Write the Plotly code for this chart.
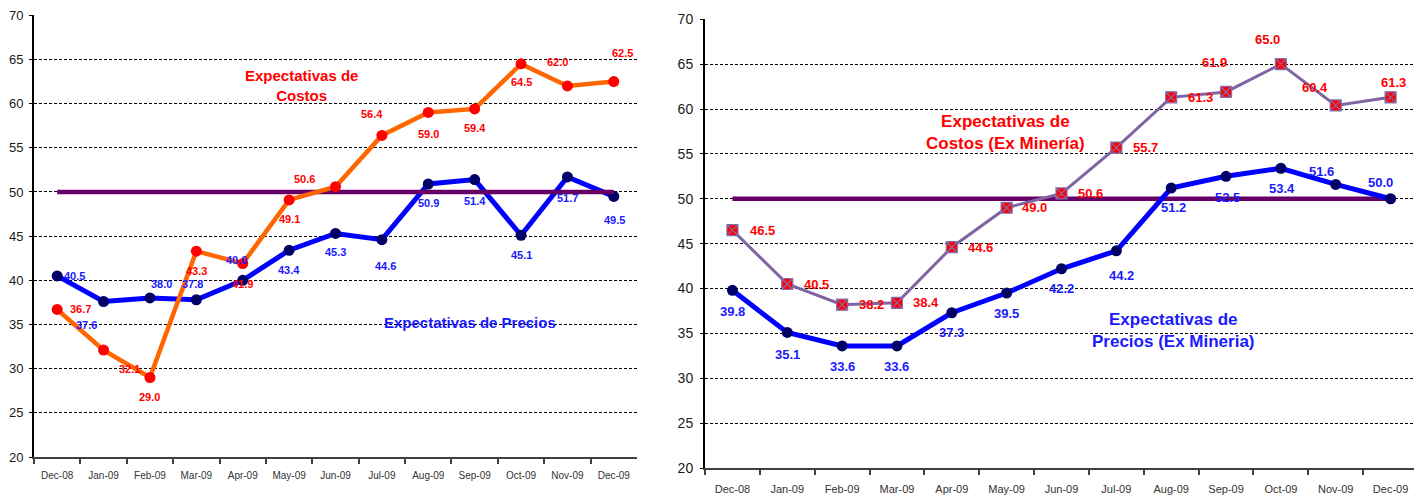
import plotly.graph_objects as go

months = ["Dec-08", "Jan-09", "Feb-09", "Mar-09", "Apr-09", "May-09", "Jun-09",
          "Jul-09", "Aug-09", "Sep-09", "Oct-09", "Nov-09", "Dec-09"]
precios = [40.5, 37.6, 38.0, 37.8, 40.0, 43.4, 45.3, 44.6, 50.9, 51.4, 45.1, 51.7, 49.5]
costos = [36.7, 32.1, 29.0, 43.3, 41.9, 49.1, 50.6, 56.4, 59.0, 59.4, 64.5, 62.0, 62.5]
precios_exm = [39.8, 35.1, 33.6, 33.6, 37.3, 39.5, 42.2, 44.2, 51.2, 52.5, 53.4, 51.6, 50.0]
costos_exm = [46.5, 40.5, 38.2, 38.4, 44.6, 49.0, 50.6, 55.7, 61.3, 61.9, 65.0, 60.4, 61.3]
neutral = 50
y_ticks = [20, 25, 30, 35, 40, 45, 50, 55, 60, 65, 70]

# label offsets in pixels (dx right, dy down)
off_precios = [(17, 0), (-17, 23), (12, -14), (-4, -16), (-6, -20), (0, 20), (0, 19),
               (4, 26), (0, 19), (0, 21), (0, 20), (0, 21), (1, 24)]
off_costos = [(23, 0), (26, 19), (0, 20), (0, 20), (0, 20), (0, 19), (-31, -8),
              (-10, -21), (0, 22), (0, 19), (0, 18), (-10, -24), (9, -29)]
off_precios_exm = [(0, 21), (0, 22), (0, 21), (0, 21), (0, 20), (0, 20), (0, 20),
                   (5, 25), (2, 20), (1, 21), (1, 20), (-14, -13), (-10, -16)]
off_costos_exm = [(30, 0), (29, 0), (29, 0), (29, 0), (29, 0), (28, 0), (29, 0),
                  (29, 0), (29, 0), (-12, -29), (-13, -25), (-21, -18), (3, -15)]

FONT = "Liberation Sans, Arial, sans-serif"
OFF = 8                 # page body margin
W, H = 1422 - OFF, 497 - OFF


def fx(px):
    return (px - OFF) / W


def fy(py):
    return (OFF + H - py) / H


fig = go.Figure()

# ---------- left chart ----------
fig.add_trace(go.Scatter(x=months, y=precios, mode="lines+markers",
                         line=dict(color="#0000FF", width=5),
                         marker=dict(color="#000066", size=11),
                         xaxis="x", yaxis="y", showlegend=False))
fig.add_trace(go.Scatter(x=[months[0], months[-1]], y=[neutral, neutral], mode="lines",
                         line=dict(color="#660066", width=4.5),
                         xaxis="x", yaxis="y", showlegend=False))
fig.add_trace(go.Scatter(x=months, y=costos, mode="lines+markers",
                         line=dict(color="#FF6600", width=4.5),
                         marker=dict(color="#FF0000", size=11),
                         xaxis="x", yaxis="y", showlegend=False))

# ---------- right chart ----------
fig.add_trace(go.Scatter(x=[months[0], months[-1]], y=[neutral, neutral], mode="lines",
                         line=dict(color="#660066", width=4.5),
                         xaxis="x2", yaxis="y2", showlegend=False))
fig.add_trace(go.Scatter(x=months, y=precios_exm, mode="lines+markers",
                         line=dict(color="#0000FF", width=5),
                         marker=dict(color="#000066", size=11),
                         xaxis="x2", yaxis="y2", showlegend=False))
fig.add_trace(go.Scatter(x=months, y=costos_exm, mode="lines+markers",
                         line=dict(color="#8064A2", width=3),
                         marker=dict(color="#FF0000", size=11, symbol="square-x",
                                     line=dict(color="#7F6FB0", width=1.2)),
                         xaxis="x2", yaxis="y2", showlegend=False))

annotations = []


def bold(s):
    return "<b>" + s + "</b>"


def add_labels(vals, offs, color, size, xr, yr):
    for m, v, (dx, dy) in zip(months, vals, offs):
        annotations.append(dict(x=m, y=v, xref=xr, yref=yr, text=bold(f"{v:.1f}"),
                                showarrow=False, xshift=dx, yshift=-dy,
                                font=dict(family=FONT, size=size, color=color),
                                xanchor="center", yanchor="middle"))


add_labels(precios, off_precios, "#1A1AFF", 11, "x", "y")
add_labels(costos, off_costos, "#FF0000", 11, "x", "y")
add_labels(precios_exm, off_precios_exm, "#1A1AFF", 13, "x2", "y2")
add_labels(costos_exm, off_costos_exm, "#FF0000", 13, "x2", "y2")

titles = [
    ("Expectativas de<br>Costos", 301, 85, "#FF0000", 15),
    ("Expectativas de Precios", 470, 322, "#1A1AFF", 15),
    ("Expectativas de<br>Costos (Ex Minería)", 1005, 132, "#FF0000", 17),
    ("Expectativas de<br>Precios (Ex Mineria)", 1173, 330, "#1A1AFF", 17),
]
for txt, px, py, col, sz in titles:
    annotations.append(dict(x=fx(px), y=fy(py), xref="paper", yref="paper",
                            text=bold(txt), showarrow=False, align="center",
                            xanchor="center", yanchor="middle",
                            font=dict(family=FONT, size=sz, color=col)))


def xaxis(domain, anchor, size, standoff):
    return dict(domain=domain, anchor=anchor, type="category",
                categoryorder="array", categoryarray=months, range=[-0.5, 12.5],
                automargin=False,
                showline=True, linecolor="#404040", linewidth=2, ticks="outside",
                tickson="boundaries", ticklen=5, tickcolor="#404040", tickwidth=1.5,
                showgrid=False, zeroline=False, ticklabelstandoff=standoff,
                tickfont=dict(family=FONT, size=size, color="#333333"))


def yaxis(domain, anchor, size, lw, standoff):
    return dict(domain=domain, anchor=anchor, range=[20, 70.03], tickvals=y_ticks,
                automargin=False, ticklabeloverflow="allow",
                showline=True, linecolor="#000000", linewidth=lw, ticks="outside",
                ticklen=3, tickcolor="#000000", showgrid=True, gridcolor="#000000",
                gridwidth=1, griddash="3px,2px", zeroline=False,
                ticklabelstandoff=standoff,
                tickfont=dict(family=FONT, size=size, color="#1A1A1A"))


fig.update_layout(
    template="none",
    width=W, height=H,
    margin=dict(l=0, r=0, t=0, b=0, autoexpand=False),
    paper_bgcolor="white", plot_bgcolor="white",
    xaxis=xaxis([fx(34), fx(637)], "y", 10, 8),
    yaxis=yaxis([fy(457), fy(15)], "x", 13, 2, 3),
    xaxis2=xaxis([fx(705), fx(1418)], "y2", 11, 10),
    yaxis2=yaxis([fy(468), fy(19)], "x2", 14, 2, 4),
    annotations=annotations,
)

fig.write_html("out.html")
